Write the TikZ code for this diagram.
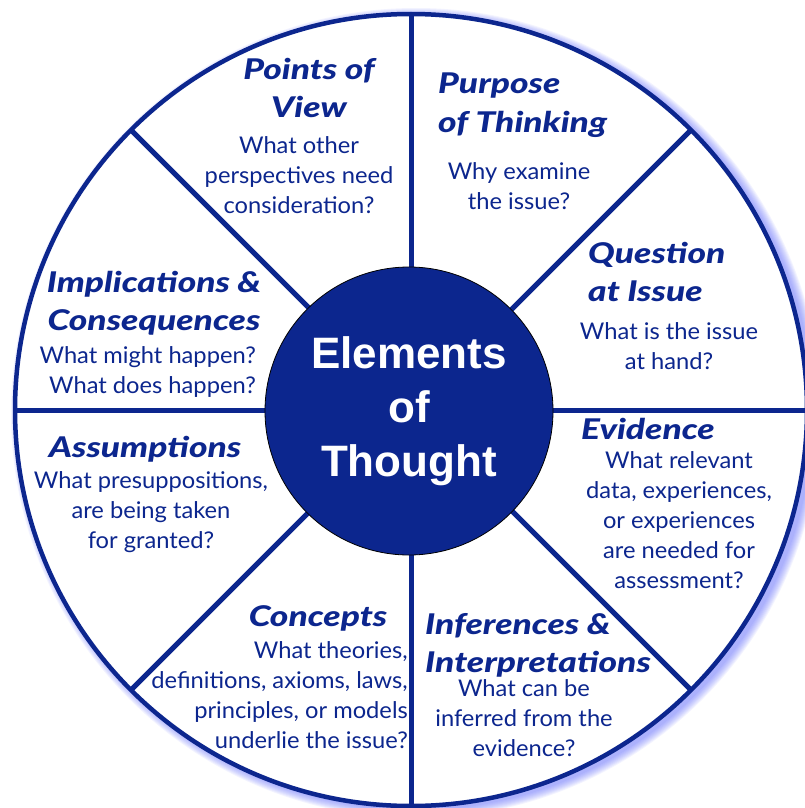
\documentclass[tikz,border=0pt]{standalone}
\usepackage{fontspec}
\setmainfont{Lato}[FakeStretch=1.03]
\newfontfamily\headfont{Lato}[BoldItalicFont={Lato Black Italic}, FakeStretch=1.24]
\newfontfamily\centrefont{Liberation Sans}
\definecolor{navy}{RGB}{12,38,142}
\definecolor{glowblue}{RGB}{95,105,250}

\begin{document}
\begin{tikzpicture}[x=1pt,y=-1pt,
    spoke/.style={draw=navy, line width=5pt},
    title/.style={font=\headfont\fontsize{28.5}{38.5}\selectfont\bfseries\itshape, text=navy, inner sep=0pt},
    body/.style={font=\fontsize{23}{30}\selectfont, text=navy, inner sep=0pt, align=center}]
    \useasboundingbox (0,0) rectangle (804,808);
    \coordinate (c) at (411,410);
    % soft glow on the right
    \foreach \k in {1,...,9}
        \fill[glowblue, opacity=0.08] (416,413) circle ({396pt+\k*1pt});
    \fill[white] (c) circle (396pt);
    \foreach \a in {0,45,...,315}
        \draw[spoke] (c) -- ++(\a:396pt);
    \draw[navy, line width=4.5pt] (c) circle (396pt);
    \node[circle, minimum size=288pt, fill=navy, draw=black, line width=0.8pt,
          text=white, align=center, inner sep=0pt,
          font=\centrefont\fontsize{44}{54}\selectfont\bfseries] (thought) at (409,411)
          {Elements\\of\\Thought};

    \node[title, align=center, anchor=north] (pov-title) at (309,58) {Points of\\View};
    \node[body, anchor=north] (pov-text) at (299,136)
        {What other\\perspectives need\\consideration?};

    \node[title, align=left, anchor=north west] (purpose-title) at (438,73) {Purpose\\of Thinking};
    \node[body, anchor=north] (purpose-text) at (519,162)
        {Why examine\\the issue?};

    \node[title, align=left, anchor=north west] (question-title) at (588,242) {Question\\at Issue};
    \node[body, anchor=north] (question-text) at (669,322)
        {What is the issue\\at hand?};

    \node[title, align=left, anchor=north west] (evidence-title) at (581,418) {Evidence};
    \node[body, anchor=north] (evidence-text) at (679,451)
        {What relevant\\data, experiences,\\or experiences\\are needed for\\assessment?};

    \node[title, align=left, anchor=north west] (inference-title) at (425,613)
        {Inferences \&\\Interpretations};
    \node[body, anchor=north] (inference-text) at (524,679)
        {What can be\\inferred from the\\evidence?};

    \node[title, anchor=north] (concepts-title) at (318,605) {Concepts};
    \node[body, align=right, anchor=north east] (concepts-text) at (408,641)
        {What theories,\\definitions, axioms, laws,\\principles, or models\\underlie the issue?};

    \node[title, anchor=north] (assume-title) at (145,436) {Assumptions};
    \node[body, anchor=north] (assume-text) at (151,471)
        {What presuppositions,\\are being taken\\for granted?};

    \node[title, align=center, anchor=north] (impl-title) at (154,271)
        {Implications \&\\Consequences};
    \node[body, align=right, anchor=north east] (impl-text) at (256,346)
        {What might happen?\\What does happen?};
\end{tikzpicture}
\end{document}
